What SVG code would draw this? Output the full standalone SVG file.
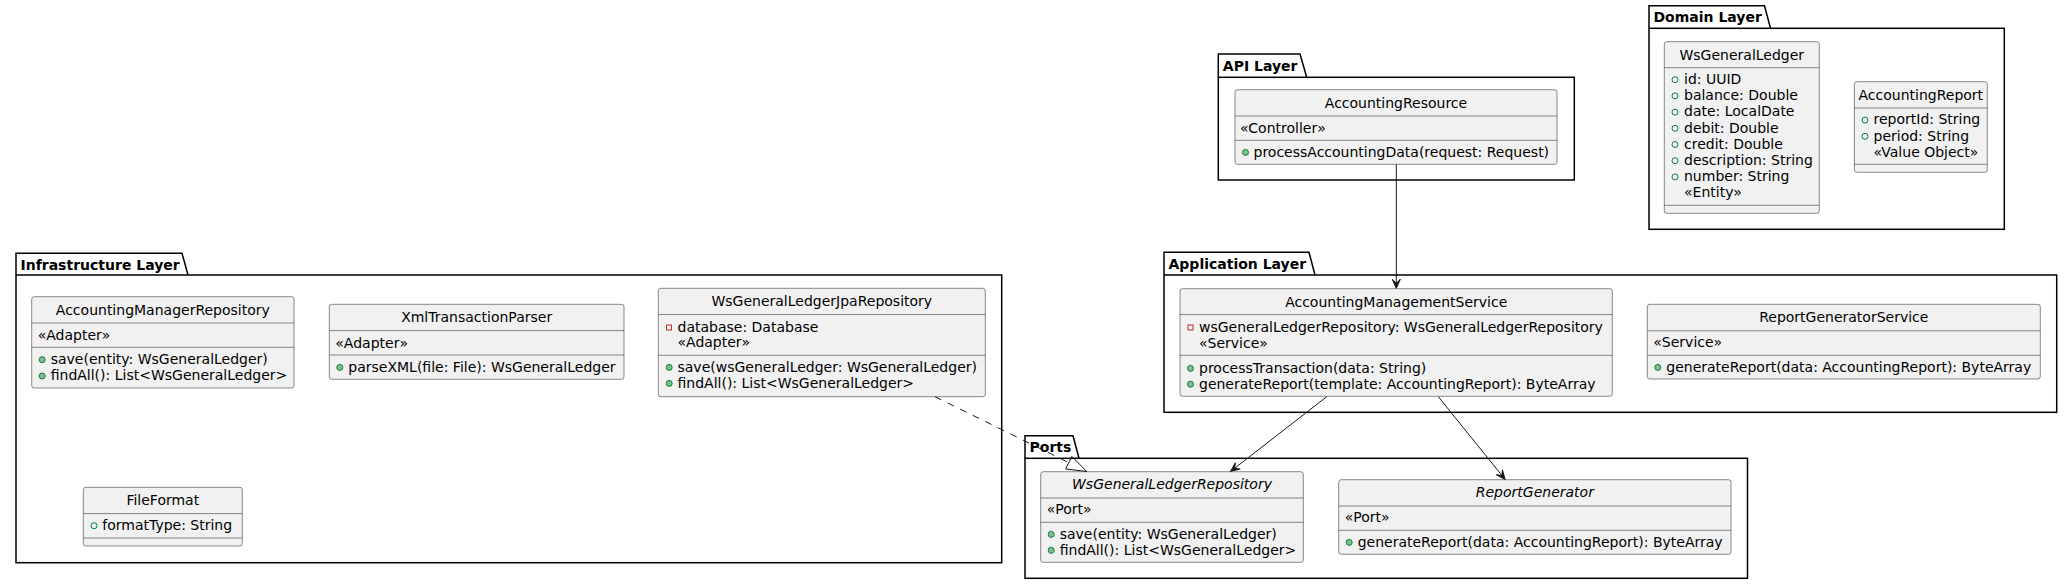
<svg xmlns="http://www.w3.org/2000/svg" width="2072" height="584" viewBox="0 0 2072 584">
<defs>
<style>
text{font-family:"DejaVu Sans","Liberation Sans",sans-serif;font-size:14px;fill:#000}
.pk{fill:none;stroke:#000;stroke-width:1.5}
.pt{font-weight:bold}
.cb{fill:#F1F1F1;stroke:#181818;stroke-width:0.5}
.sl{stroke:#181818;stroke-width:0.5}
.ti{text-anchor:middle}
.it{font-style:italic}
.mp{fill:#84BE84;stroke:#038048;stroke-width:1}
.ap{fill:none;stroke:#038048;stroke-width:1}
.pv{fill:none;stroke:#C82930;stroke-width:1}
.ln{fill:none;stroke:#181818;stroke-width:1}
.dl{fill:none;stroke:#181818;stroke-width:1;stroke-dasharray:7,7}
</style>
<marker id="arr" markerWidth="12" markerHeight="10" viewBox="-10 -5 12 10" refX="0" refY="0" orient="auto" markerUnits="userSpaceOnUse">
<path d="M0,0 L-9,-4 L-5,0 L-9,4 Z" fill="#181818" stroke="#181818" stroke-width="1"/>
</marker>
</defs>
<rect width="2072" height="584" fill="#FFFFFF"/>

<!-- Packages -->
<g id="pkg-api">
<path class="pk" d="M1218.3,77.3 L1218.3,54 L1300,54 L1306.7,77.3"/>
<rect class="pk" x="1218.3" y="77.3" width="356" height="102.7"/>
<text class="pt" x="1222.8" y="70.5">API Layer</text>
</g>
<g id="pkg-domain">
<path class="pk" d="M1649,28.3 L1649,5.7 L1764.5,5.7 L1770.5,28.3"/>
<rect class="pk" x="1649" y="28.3" width="355.3" height="201"/>
<text class="pt" x="1653.5" y="22.2">Domain Layer</text>
</g>
<g id="pkg-application">
<path class="pk" d="M1164,275 L1164,252.3 L1309,252.3 L1315,275"/>
<rect class="pk" x="1164" y="275" width="892.7" height="137.3"/>
<text class="pt" x="1168.5" y="268.8">Application Layer</text>
</g>
<g id="pkg-infrastructure">
<path class="pk" d="M16,275 L16,253.3 L182,253.3 L188,275"/>
<rect class="pk" x="16" y="275" width="985.7" height="287.7"/>
<text class="pt" x="20.5" y="269.5">Infrastructure Layer</text>
</g>
<g id="pkg-ports">
<path class="pk" d="M1025,458.3 L1025,435.7 L1073,435.7 L1079,458.3"/>
<rect class="pk" x="1025" y="458.3" width="722.5" height="120"/>
<text class="pt" x="1029.5" y="452.2">Ports</text>
</g>

<!-- Classes -->
<g id="AccountingResource">
<rect class="cb" x="1235" y="89.7" width="322" height="74.6" rx="2.5"/>
<line class="sl" x1="1235" y1="116" x2="1557" y2="116"/>
<line class="sl" x1="1235" y1="140.3" x2="1557" y2="140.3"/>
<text class="ti" x="1396" y="107.7">AccountingResource</text>
<text x="1240" y="132.7">«Controller»</text>
<circle class="mp" cx="1245.5" cy="152.4" r="3"/>
<text x="1253.5" y="156.7">processAccountingData(request: Request)</text>
</g>

<g id="WsGeneralLedger">
<rect class="cb" x="1664.3" y="41.7" width="155" height="171.6" rx="2.5"/>
<line class="sl" x1="1664.3" y1="67.7" x2="1819.3" y2="67.7"/>
<line class="sl" x1="1664.3" y1="205.3" x2="1819.3" y2="205.3"/>
<text class="ti" x="1741.8" y="59.7">WsGeneralLedger</text>
<circle class="ap" cx="1675" cy="79.7" r="3"/>
<text x="1684" y="84">id: UUID</text>
<circle class="ap" cx="1675" cy="95.9" r="3"/>
<text x="1684" y="100.2">balance: Double</text>
<circle class="ap" cx="1675" cy="112.1" r="3"/>
<text x="1684" y="116.4">date: LocalDate</text>
<circle class="ap" cx="1675" cy="128.3" r="3"/>
<text x="1684" y="132.6">debit: Double</text>
<circle class="ap" cx="1675" cy="144.5" r="3"/>
<text x="1684" y="148.8">credit: Double</text>
<circle class="ap" cx="1675" cy="160.7" r="3"/>
<text x="1684" y="165">description: String</text>
<circle class="ap" cx="1675" cy="176.9" r="3"/>
<text x="1684" y="181.2">number: String</text>
<text x="1684" y="197.4">«Entity»</text>
</g>

<g id="AccountingReport">
<rect class="cb" x="1854.3" y="81.7" width="133" height="90.6" rx="2.5"/>
<line class="sl" x1="1854.3" y1="108" x2="1987.3" y2="108"/>
<line class="sl" x1="1854.3" y1="164.3" x2="1987.3" y2="164.3"/>
<text class="ti" x="1920.8" y="99.7">AccountingReport</text>
<circle class="ap" cx="1865" cy="120.1" r="3"/>
<text x="1873.5" y="124.4">reportId: String</text>
<circle class="ap" cx="1865" cy="136.3" r="3"/>
<text x="1873.5" y="140.6">period: String</text>
<text x="1873.5" y="156.8">«Value Object»</text>
</g>

<g id="AccountingManagementService">
<rect class="cb" x="1180" y="288.7" width="432.3" height="107.6" rx="2.5"/>
<line class="sl" x1="1180" y1="314.6" x2="1612.3" y2="314.6"/>
<line class="sl" x1="1180" y1="355.3" x2="1612.3" y2="355.3"/>
<text class="ti" x="1396.2" y="306.7">AccountingManagementService</text>
<rect class="pv" x="1188" y="325" width="5" height="5"/>
<text x="1199" y="331.7">wsGeneralLedgerRepository: WsGeneralLedgerRepository</text>
<text x="1199" y="347.5">«Service»</text>
<circle class="mp" cx="1190.5" cy="368.4" r="3"/>
<text x="1199" y="372.7">processTransaction(data: String)</text>
<circle class="mp" cx="1190.5" cy="384.2" r="3"/>
<text x="1199" y="388.5">generateReport(template: AccountingReport): ByteArray</text>
</g>

<g id="ReportGeneratorService">
<rect class="cb" x="1647.3" y="304.3" width="393" height="74.7" rx="2.5"/>
<line class="sl" x1="1647.3" y1="330.8" x2="2040.3" y2="330.8"/>
<line class="sl" x1="1647.3" y1="355.3" x2="2040.3" y2="355.3"/>
<text class="ti" x="1843.8" y="322.3">ReportGeneratorService</text>
<text x="1653.3" y="347.3">«Service»</text>
<circle class="mp" cx="1657.8" cy="367.4" r="3"/>
<text x="1666.3" y="371.7">generateReport(data: AccountingReport): ByteArray</text>
</g>

<g id="AccountingManagerRepository">
<rect class="cb" x="31.7" y="296.7" width="262.3" height="91.3" rx="2.5"/>
<line class="sl" x1="31.7" y1="323" x2="294" y2="323"/>
<line class="sl" x1="31.7" y1="347.3" x2="294" y2="347.3"/>
<text class="ti" x="162.85" y="314.7">AccountingManagerRepository</text>
<text x="37.7" y="340">«Adapter»</text>
<circle class="mp" cx="42.2" cy="359.7" r="3"/>
<text x="50.7" y="364">save(entity: WsGeneralLedger)</text>
<circle class="mp" cx="42.2" cy="376" r="3"/>
<text x="50.7" y="380.3">findAll(): List&lt;WsGeneralLedger&gt;</text>
</g>

<g id="XmlTransactionParser">
<rect class="cb" x="329.3" y="304.3" width="294.7" height="75" rx="2.5"/>
<line class="sl" x1="329.3" y1="330.6" x2="624" y2="330.6"/>
<line class="sl" x1="329.3" y1="355" x2="624" y2="355"/>
<text class="ti" x="476.65" y="322.3">XmlTransactionParser</text>
<text x="335.3" y="347.5">«Adapter»</text>
<circle class="mp" cx="339.8" cy="367.4" r="3"/>
<text x="348.3" y="371.7">parseXML(file: File): WsGeneralLedger</text>
</g>

<g id="WsGeneralLedgerJpaRepository">
<rect class="cb" x="658.3" y="288.3" width="327" height="108.4" rx="2.5"/>
<line class="sl" x1="658.3" y1="314.5" x2="985.3" y2="314.5"/>
<line class="sl" x1="658.3" y1="355.3" x2="985.3" y2="355.3"/>
<text class="ti" x="821.8" y="306.3">WsGeneralLedgerJpaRepository</text>
<rect class="pv" x="666.5" y="325" width="5" height="5"/>
<text x="677.5" y="331.7">database: Database</text>
<text x="677.5" y="347.3">«Adapter»</text>
<circle class="mp" cx="669.2" cy="367.4" r="3"/>
<text x="677.5" y="371.7">save(wsGeneralLedger: WsGeneralLedger)</text>
<circle class="mp" cx="669.2" cy="383.4" r="3"/>
<text x="677.5" y="387.7">findAll(): List&lt;WsGeneralLedger&gt;</text>
</g>

<g id="FileFormat">
<rect class="cb" x="83.3" y="487.3" width="159" height="58.7" rx="2.5"/>
<line class="sl" x1="83.3" y1="513.6" x2="242.3" y2="513.6"/>
<line class="sl" x1="83.3" y1="538" x2="242.3" y2="538"/>
<text class="ti" x="162.8" y="505.3">FileFormat</text>
<circle class="ap" cx="94" cy="525.7" r="3"/>
<text x="102.3" y="530">formatType: String</text>
</g>

<g id="WsGeneralLedgerRepository">
<rect class="cb" x="1040.7" y="471.7" width="262.6" height="90.6" rx="2.5"/>
<line class="sl" x1="1040.7" y1="498" x2="1303.3" y2="498"/>
<line class="sl" x1="1040.7" y1="522.3" x2="1303.3" y2="522.3"/>
<text class="ti it" x="1172" y="489">WsGeneralLedgerRepository</text>
<text x="1046.7" y="513.8">«Port»</text>
<circle class="mp" cx="1051.2" cy="534.4" r="3"/>
<text x="1059.7" y="538.7">save(entity: WsGeneralLedger)</text>
<circle class="mp" cx="1051.2" cy="550.3" r="3"/>
<text x="1059.7" y="554.6">findAll(): List&lt;WsGeneralLedger&gt;</text>
</g>

<g id="ReportGenerator">
<rect class="cb" x="1338.7" y="479.7" width="392.3" height="74.6" rx="2.5"/>
<line class="sl" x1="1338.7" y1="506" x2="1731" y2="506"/>
<line class="sl" x1="1338.7" y1="530.3" x2="1731" y2="530.3"/>
<text class="ti it" x="1534.85" y="497.4">ReportGenerator</text>
<text x="1344.7" y="522.3">«Port»</text>
<circle class="mp" cx="1349.2" cy="542.4" r="3"/>
<text x="1357.7" y="546.7">generateReport(data: AccountingReport): ByteArray</text>
</g>

<!-- Connectors -->
<g id="connectors">
<line class="ln" x1="1396.3" y1="164.3" x2="1396.3" y2="288.3" marker-end="url(#arr)"/>
<line class="ln" x1="1326.7" y1="396.7" x2="1230.7" y2="471.3" marker-end="url(#arr)"/>
<line class="ln" x1="1438.3" y1="396.7" x2="1505" y2="479.3" marker-end="url(#arr)"/>
<line class="dl" x1="935" y1="396.7" x2="1068.76" y2="462.65"/>
<polygon points="1086.7,471.5 1065.66,468.93 1071.85,456.37" fill="none" stroke="#181818" stroke-width="1"/>
</g>
</svg>
